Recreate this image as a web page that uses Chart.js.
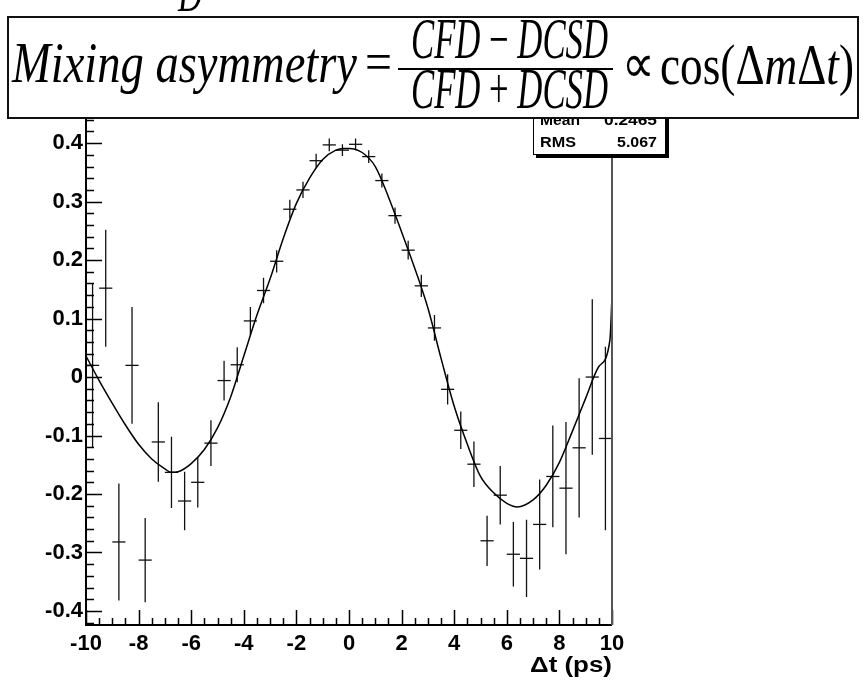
<!DOCTYPE html>
<html>
<head>
<meta charset="utf-8">
<script src="https://cdn.jsdelivr.net/npm/chart.js@4.4.0/dist/chart.umd.min.js"></script>
<style>
  html, body { margin: 0; padding: 0; background: #fff; }
  canvas { display: block; }
</style>
</head>
<body>
<canvas id="chart" width="865" height="685"></canvas>
<script>
// bin centres (ps) and measured asymmetry with its error
const binCenters = [-9.75, -9.25, -8.75, -8.25, -7.75, -7.25, -6.75, -6.25, -5.75, -5.25,
                    -4.75, -4.25, -3.75, -3.25, -2.75, -2.25, -1.75, -1.25, -0.75, -0.25,
                     0.25,  0.75,  1.25,  1.75,  2.25,  2.75,  3.25,  3.75,  4.25,  4.75,
                     5.25,  5.75,  6.25,  6.75,  7.25,  7.75,  8.25,  8.75,  9.25,  9.75];
const asymmetry = [0.02, 0.152, -0.282, 0.02, -0.313, -0.111, -0.163, -0.212, -0.18, -0.113,
                   -0.006, 0.021, 0.096, 0.148, 0.198, 0.287, 0.32, 0.37, 0.397, 0.388,
                   0.398, 0.377, 0.336, 0.276, 0.217, 0.156, 0.084, -0.021, -0.091, -0.149,
                   -0.28, -0.202, -0.303, -0.31, -0.252, -0.17, -0.19, -0.121, 0.0, -0.105];
const asymErr = [0.14, 0.10, 0.10, 0.10, 0.072, 0.068, 0.061, 0.05, 0.043, 0.039,
                 0.034, 0.03, 0.024, 0.022, 0.019, 0.016, 0.014, 0.012, 0.011, 0.01,
                 0.01, 0.011, 0.012, 0.014, 0.016, 0.019, 0.022, 0.026, 0.032, 0.039,
                 0.043, 0.05, 0.055, 0.066, 0.077, 0.087, 0.113, 0.119, 0.133, 0.157];

// fitted curve
const fitT = [-10, -9.5, -9, -8.5, -8, -7.5, -7, -6.75, -6.5, -6, -5.5, -5, -4.5, -4, -3.5, -3,
              -2.5, -2, -1.5, -1, -0.5, -0.2, 0, 0.5, 1, 1.5, 2, 2.5, 3, 3.5, 4, 4.5, 5,
              5.5, 6, 6.4, 7, 7.5, 8, 8.5, 9, 9.5, 9.92, 10];
const fitVal = [0.036, -0.006, -0.045, -0.082, -0.115, -0.14, -0.157, -0.163, -0.162, -0.148,
                -0.124, -0.087, -0.034, 0.036, 0.106, 0.168, 0.237, 0.297, 0.34, 0.372,
                0.388, 0.391, 0.391, 0.384, 0.36, 0.308, 0.248, 0.186, 0.118, 0.032,
                -0.05, -0.115, -0.17, -0.198, -0.216, -0.222, -0.21, -0.185, -0.146,
                -0.092, -0.036, 0.018, 0.063, 0.137];

const xTickValues = [-10, -8, -6, -4, -2, 0, 2, 4, 6, 8, 10];
const xTickLabels = ['-10', '-8', '-6', '-4', '-2', '0', '2', '4', '6', '8', '10'];
const yTickValues = [-0.4, -0.3, -0.2, -0.1, 0, 0.1, 0.2, 0.3, 0.4];
const yTickLabels = ['-0.4', '-0.3', '-0.2', '-0.1', '0', '0.1', '0.2', '0.3', '0.4'];
const xTitle = '\u0394t (ps)';
const statNames = ['Mean', 'RMS'];
const statValues = ['0.2465', '5.067'];

const SANS = '"Liberation Sans", Arial, sans-serif';
const SERIF = '"Liberation Serif", "Times New Roman", serif';

// error bars as separate segments, broken by nulls
const errSegments = [];
binCenters.forEach((x, i) => {
  errSegments.push({ x, y: asymmetry[i] - asymErr[i] });
  errSegments.push({ x, y: asymmetry[i] + asymErr[i] });
  errSegments.push({ x, y: null });
});

// draws text runs squeezed to fit [x0, x1]
function drawRuns(ctx, runs, x0, x1, base, size, family) {
  const fam = family || SERIF;
  const fontOf = r => (r.it ? 'italic ' : '') + (r.b ? 'bold ' : '') + size + 'px ' + fam;
  const widths = runs.map(r => { ctx.font = fontOf(r); return ctx.measureText(r.t).width; });
  const total = widths.reduce((a, b) => a + b, 0);
  ctx.save();
  ctx.translate(x0, base);
  ctx.scale((x1 - x0) / total, 1);
  ctx.fillStyle = '#000';
  ctx.textBaseline = 'alphabetic';
  ctx.textAlign = 'left';
  let x = 0;
  runs.forEach((r, i) => { ctx.font = fontOf(r); ctx.fillText(r.t, x, 0); x += widths[i]; });
  ctx.restore();
}

const rootFrame = {
  id: 'rootFrame',
  afterDatasetsDraw(chart) {
    const { ctx, chartArea: a, scales: { x, y } } = chart;
    ctx.save();
    ctx.strokeStyle = '#000';
    ctx.lineWidth = 1.5;
    ctx.beginPath();
    // inner ticks on y
    for (let k = -21; k <= 22; k++) {
      const v = k * 0.02;
      const py = Math.round(y.getPixelForValue(v)) + 0.5;
      const major = yTickValues.some(t => Math.abs(t - v) < 1e-6);
      ctx.moveTo(a.left, py);
      ctx.lineTo(a.left + (major ? 16 : 8), py);
    }
    // inner ticks on x
    for (let k = -20; k <= 20; k++) {
      const v = k * 0.5;
      const px = Math.round(x.getPixelForValue(v)) + 0.5;
      const major = xTickValues.includes(v);
      ctx.moveTo(px, a.bottom);
      ctx.lineTo(px, a.bottom - (major ? 15 : 7));
    }
    ctx.stroke();
    // frame
    ctx.lineWidth = 2;
    ctx.beginPath();
    ctx.moveTo(a.left, a.top);
    ctx.lineTo(a.left, a.bottom);
    ctx.lineTo(a.right, a.bottom);
    ctx.stroke();
    ctx.strokeStyle = '#555';
    ctx.beginPath();
    ctx.moveTo(a.right, a.bottom);
    ctx.lineTo(a.right, a.top);
    ctx.stroke();
    // axis title
    drawRuns(ctx, [{ t: xTitle, b: true }], 530, a.right, 672, 22, SANS);
    ctx.restore();
  },
  afterDraw(chart) {
    const { ctx } = chart;
    ctx.save();
    // stat box
    ctx.fillStyle = '#000';
    ctx.fillRect(536, 98, 133, 60);
    ctx.fillStyle = '#fff';
    ctx.fillRect(533, 95, 133, 60);
    ctx.strokeStyle = '#000';
    ctx.lineWidth = 1;
    ctx.strokeRect(533.5, 95.5, 132, 59);
    statNames.forEach((n, i) => {
      const base = 125 + i * 22;
      drawRuns(ctx, [{ t: n, b: true }], 540, 540 + (i ? 36 : 40), base, 15, SANS);
      drawRuns(ctx, [{ t: statValues[i], b: true }], i ? 617 : 604, 657, base, 15, SANS);
    });
    // partial title glyph at the very top
    drawRuns(ctx, [{ t: 'D', it: true }], 178, 202, 11, 50);
    // formula box
    ctx.fillStyle = '#fff';
    ctx.fillRect(8, 17, 850, 101);
    ctx.strokeStyle = '#111';
    ctx.lineWidth = 2;
    ctx.strokeRect(8, 17, 850, 101);
    drawRuns(ctx, [{ t: 'Mixing asymmetry', it: true }], 12, 357, 82, 57);
    drawRuns(ctx, [{ t: '=' }], 365, 392, 80, 54);
    drawRuns(ctx, [{ t: 'CFD', it: true }, { t: ' \u2212 ' }, { t: 'DCSD', it: true }], 411, 608, 58, 56);
    drawRuns(ctx, [{ t: 'CFD', it: true }, { t: ' + ' }, { t: 'DCSD', it: true }], 411, 608, 108, 56);
    ctx.fillStyle = '#000';
    ctx.fillRect(398, 68, 215, 2);
    drawRuns(ctx, [{ t: '\u221D' }], 622, 655, 82, 54);
    drawRuns(ctx, [{ t: 'cos(\u0394' }, { t: 'm', it: true }, { t: '\u0394' }, { t: 't', it: true }, { t: ')' }],
             660, 854, 84, 57);
    ctx.restore();
  }
};

new Chart(document.getElementById('chart'), {
  type: 'scatter',
  data: {
    datasets: [
      {
        label: 'fit',
        type: 'line',
        data: fitT.map((t, i) => ({ x: t, y: fitVal[i] })),
        borderColor: '#000',
        borderWidth: 1.5,
        pointRadius: 0,
        fill: false,
        cubicInterpolationMode: 'monotone'
      },
      {
        label: 'errors',
        type: 'line',
        data: errSegments,
        borderColor: '#111',
        borderWidth: 1.3,
        pointRadius: 0,
        spanGaps: false,
        fill: false
      },
      {
        label: 'asymmetry',
        data: binCenters.map((x, i) => ({ x, y: asymmetry[i] })),
        pointStyle: 'line',
        pointRadius: 6.6,
        borderColor: '#111',
        borderWidth: 1.3,
        backgroundColor: '#111'
      }
    ]
  },
  options: {
    responsive: false,
    animation: false,
    devicePixelRatio: 1,
    layout: { padding: { top: 118, right: 253, left: 0, bottom: 0 } },
    plugins: { legend: { display: false }, tooltip: { enabled: false } },
    scales: {
      x: {
        type: 'linear',
        min: -10,
        max: 10,
        afterBuildTicks: s => { s.ticks = xTickValues.map(v => ({ value: v })); },
        afterFit: s => { s.height = 60; },
        grid: { display: false, drawTicks: false },
        border: { display: false },
        ticks: {
          autoSkip: false,
          maxRotation: 0,
          padding: 6,
          color: '#000',
          font: { family: SANS, size: 22, weight: 'bold' },
          callback: v => xTickLabels[xTickValues.indexOf(v)]
        }
      },
      y: {
        type: 'linear',
        min: -0.424,
        max: 0.443,
        afterBuildTicks: s => { s.ticks = yTickValues.map(v => ({ value: v })); },
        afterFit: s => { s.width = 86; },
        grid: { display: false, drawTicks: false },
        border: { display: false },
        ticks: {
          padding: 3,
          color: '#000',
          font: { family: SANS, size: 22, weight: 'bold' },
          callback: v => {
            const i = yTickValues.findIndex(t => Math.abs(t - v) < 1e-6);
            return i >= 0 ? yTickLabels[i] : '';
          }
        }
      }
    }
  },
  plugins: [rootFrame]
});
</script>
</body>
</html>
